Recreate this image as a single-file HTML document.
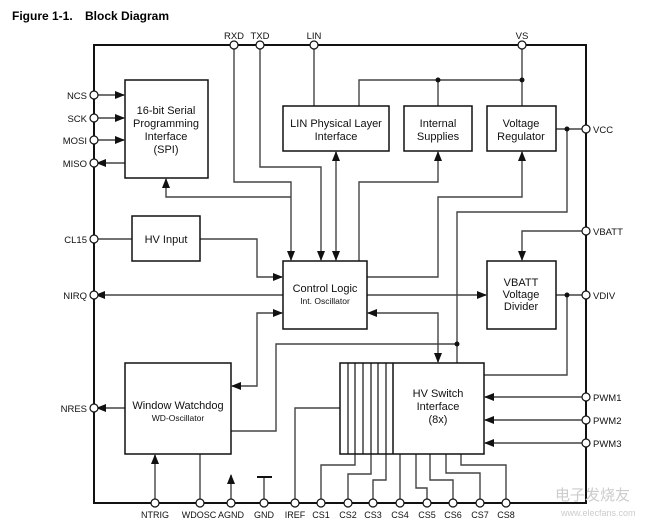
<!DOCTYPE html>
<html><head><meta charset="utf-8"><style>
html,body{margin:0;padding:0;background:#fff;}
svg{display:block;font-family:"Liberation Sans",Arial,sans-serif;}
</style></head><body>
<svg width="664" height="531" viewBox="0 0 664 531" xmlns="http://www.w3.org/2000/svg">
<defs>
<marker id="a" markerWidth="10" markerHeight="8" refX="9" refY="4" orient="auto" markerUnits="userSpaceOnUse"><path d="M0,0 L10,4 L0,8 z" fill="#111"/></marker>
<marker id="s" markerWidth="10" markerHeight="8" refX="1" refY="4" orient="auto" markerUnits="userSpaceOnUse"><path d="M10,0 L0,4 L10,8 z" fill="#111"/></marker>
</defs>
<text x="12" y="20" font-size="12" font-weight="bold">Figure 1-1.</text>
<text x="85" y="20" font-size="12" font-weight="bold">Block Diagram</text>

<rect x="94" y="45" width="492" height="458" fill="none" stroke="#111" stroke-width="2"/>

<g fill="none" stroke="#444" stroke-width="1.4">
<polyline points="314,45 314,106"/>
<polyline points="359,106 359,80 522,80"/>
<polyline points="438,80 438,106"/>
<polyline points="522,45 522,106"/>
<polyline points="234,45 234,182 291,182 291,260" marker-end="url(#a)"/>
<polyline points="260,45 260,167 321,167 321,260" marker-end="url(#a)"/>
<polyline points="166,179 166,197 291,197" marker-start="url(#s)"/>
<line x1="336" y1="152" x2="336" y2="260" marker-start="url(#s)" marker-end="url(#a)"/>
<polyline points="359,261 359,182 438,182 438,152" marker-end="url(#a)"/>
<polyline points="367,277 438,277 438,197 522,197 522,152" marker-end="url(#a)"/>
<polyline points="556,129 586,129"/>
<polyline points="567,129 567,212 457,212 457,363"/>
<polyline points="231,431 276,431 276,344 457,344"/>
<polyline points="586,231 522,231 522,260" marker-end="url(#a)"/>
<polyline points="556,295 586,295"/>
<polyline points="567,295 567,375 484,375"/>
<line x1="283" y1="295" x2="96" y2="295" marker-end="url(#a)"/>
<line x1="367" y1="295" x2="486" y2="295" marker-end="url(#a)"/>
<polyline points="368,313 438,313 438,362" marker-start="url(#s)" marker-end="url(#a)"/>
<polyline points="200,239 257,239 257,277 282,277" marker-end="url(#a)"/>
<polyline points="282,313 257,313 257,386 232,386" marker-start="url(#s)" marker-end="url(#a)"/>
<line x1="97" y1="95" x2="124" y2="95" marker-end="url(#a)"/>
<line x1="97" y1="118" x2="124" y2="118" marker-end="url(#a)"/>
<line x1="97" y1="140" x2="124" y2="140" marker-end="url(#a)"/>
<line x1="125" y1="163" x2="97" y2="163" marker-end="url(#a)"/>
<line x1="97" y1="239" x2="132" y2="239"/>
<line x1="125" y1="408" x2="97" y2="408" marker-end="url(#a)"/>
<line x1="583" y1="397" x2="485" y2="397" marker-end="url(#a)"/>
<line x1="583" y1="420" x2="485" y2="420" marker-end="url(#a)"/>
<line x1="583" y1="443" x2="485" y2="443" marker-end="url(#a)"/>
<line x1="155" y1="500" x2="155" y2="455" marker-end="url(#a)"/>
<line x1="200" y1="454" x2="200" y2="500"/>
<line x1="231" y1="500" x2="231" y2="475" marker-end="url(#a)"/>
<line x1="264" y1="500" x2="264" y2="477"/>
<polyline points="295,500 295,408 340,408"/>
<polyline points="321,500 321,465 355,465 355,454"/>
<polyline points="348,500 348,474 371,474 371,454"/>
<polyline points="373,500 373,480 386,480 386,454"/>
<line x1="400" y1="500" x2="400" y2="454"/>
<polyline points="427,500 427,488 416,488 416,454"/>
<polyline points="453,500 453,480 430,480 430,454"/>
<polyline points="480,500 480,473 446,473 446,454"/>
<polyline points="506,500 506,465 461,465 461,454"/>
</g>
<line x1="257" y1="477" x2="272" y2="477" stroke="#111" stroke-width="2"/>

<g fill="#111"><circle cx="438" cy="80" r="2.5"/><circle cx="522" cy="80" r="2.5"/><circle cx="567" cy="129" r="2.5"/><circle cx="567" cy="295" r="2.5"/><circle cx="457" cy="344" r="2.5"/></g>

<g fill="#fff" stroke="#111" stroke-width="1.5">
<rect x="125" y="80" width="83" height="98"/>
<rect x="132" y="216" width="68" height="45"/>
<rect x="283" y="106" width="106" height="45"/>
<rect x="404" y="106" width="68" height="45"/>
<rect x="487" y="106" width="69" height="45"/>
<rect x="283" y="261" width="84" height="68"/>
<rect x="487" y="261" width="69" height="68"/>
<rect x="125" y="363" width="106" height="91"/>
<rect x="340" y="363" width="144" height="91"/>
</g>
<g stroke="#111" stroke-width="1.2">
<line x1="348" y1="363" x2="348" y2="454"/><line x1="355" y1="363" x2="355" y2="454"/><line x1="363" y1="363" x2="363" y2="454"/><line x1="371" y1="363" x2="371" y2="454"/><line x1="378" y1="363" x2="378" y2="454"/><line x1="386" y1="363" x2="386" y2="454"/><line x1="393" y1="363" x2="393" y2="454" stroke-width="1.5"/>
</g>

<g fill="#fff" stroke="#111" stroke-width="1.2">
<circle cx="234" cy="45" r="4"/><circle cx="260" cy="45" r="4"/><circle cx="314" cy="45" r="4"/><circle cx="522" cy="45" r="4"/>
<circle cx="94" cy="95" r="4"/><circle cx="94" cy="118" r="4"/><circle cx="94" cy="140" r="4"/><circle cx="94" cy="163" r="4"/><circle cx="94" cy="239" r="4"/><circle cx="94" cy="295" r="4"/><circle cx="94" cy="408" r="4"/>
<circle cx="586" cy="129" r="4"/><circle cx="586" cy="231" r="4"/><circle cx="586" cy="295" r="4"/><circle cx="586" cy="397" r="4"/><circle cx="586" cy="420" r="4"/><circle cx="586" cy="443" r="4"/>
<circle cx="155" cy="503" r="4"/><circle cx="200" cy="503" r="4"/><circle cx="231" cy="503" r="4"/><circle cx="264" cy="503" r="4"/><circle cx="295" cy="503" r="4"/><circle cx="321" cy="503" r="4"/><circle cx="348" cy="503" r="4"/><circle cx="373" cy="503" r="4"/><circle cx="400" cy="503" r="4"/><circle cx="427" cy="503" r="4"/><circle cx="453" cy="503" r="4"/><circle cx="480" cy="503" r="4"/><circle cx="506" cy="503" r="4"/>
</g>

<g font-size="9.5" fill="#111">
<text x="234" y="39" text-anchor="middle">RXD</text><text x="260" y="39" text-anchor="middle">TXD</text><text x="314" y="39" text-anchor="middle">LIN</text><text x="522" y="39" text-anchor="middle">VS</text>
<g text-anchor="end"><text x="87" y="99">NCS</text><text x="87" y="122">SCK</text><text x="87" y="144">MOSI</text><text x="87" y="167">MISO</text><text x="87" y="243">CL15</text><text x="87" y="299">NIRQ</text><text x="87" y="412">NRES</text></g>
<text x="593" y="133">VCC</text><text x="593" y="235">VBATT</text><text x="593" y="299">VDIV</text><text x="593" y="401">PWM1</text><text x="593" y="424">PWM2</text><text x="593" y="447">PWM3</text>
<g text-anchor="middle" font-size="9"><text x="155" y="518">NTRIG</text><text x="199" y="518">WDOSC</text><text x="231" y="518">AGND</text><text x="264" y="518">GND</text><text x="295" y="518">IREF</text><text x="321" y="518">CS1</text><text x="348" y="518">CS2</text><text x="373" y="518">CS3</text><text x="400" y="518">CS4</text><text x="427" y="518">CS5</text><text x="453" y="518">CS6</text><text x="480" y="518">CS7</text><text x="506" y="518">CS8</text></g>
</g>

<g font-size="11" fill="#111" text-anchor="middle">
<text x="166" y="114">16-bit Serial</text><text x="166" y="127">Programming</text><text x="166" y="140">Interface</text><text x="166" y="153">(SPI)</text>
<text x="166" y="243">HV Input</text>
<text x="336" y="127">LIN Physical Layer</text><text x="336" y="140">Interface</text>
<text x="438" y="127">Internal</text><text x="438" y="140">Supplies</text>
<text x="521" y="127">Voltage</text><text x="521" y="140">Regulator</text>
<text x="325" y="292">Control Logic</text><text x="325" y="304" font-size="8.5">Int. Oscillator</text>
<text x="521" y="286">VBATT</text><text x="521" y="298">Voltage</text><text x="521" y="310">Divider</text>
<text x="178" y="409">Window Watchdog</text><text x="178" y="421" font-size="8.5">WD-Oscillator</text>
<text x="438" y="397">HV Switch</text><text x="438" y="410">Interface</text><text x="438" y="423">(8x)</text>
</g>
<g fill="#ccc" font-family="'Liberation Sans','Noto Sans CJK SC',sans-serif"><text x="555" y="500" font-size="15">电子发烧友</text><text x="561" y="516" font-size="9">www.elecfans.com</text></g>
</svg>
</body></html>
